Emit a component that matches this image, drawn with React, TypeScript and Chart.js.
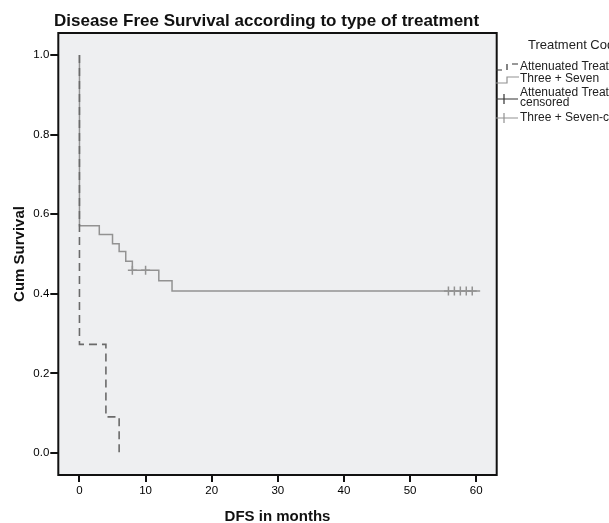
import React, { useEffect, useRef } from "react";
import { Chart, registerables } from "chart.js";

Chart.register(...registerables);

// ---- data ----
const attenuatedTimes = [0, 0, 4, 6];
const attenuatedSurvival = [1.0, 0.273, 0.091, 0.0];

const threeSevenTimes = [0, 0, 3, 5, 6, 7, 8, 12, 14, 60.6];
const threeSevenSurvival = [1.0, 0.571, 0.549, 0.526, 0.506, 0.482, 0.459, 0.433, 0.407, 0.407];

const threeSevenCensoredTimes = [8, 10, 55.8, 56.7, 57.6, 58.5, 59.4];
const threeSevenCensoredSurvival = [0.459, 0.459, 0.407, 0.407, 0.407, 0.407, 0.407];

const xTickValues = [0, 10, 20, 30, 40, 50, 60];
const yTickValues = [0, 0.2, 0.4, 0.6, 0.8, 1.0];

const titleText = "Disease Free Survival according to type of treatment";
const xTitle = "DFS in months";
const yTitle = "Cum Survival";
const legendTitle = "Treatment Code";
const legendLabels = ["Attenuated Treatment", "Three + Seven", "Attenuated Treatment-", "censored", "Three + Seven-censored"];

const DASH_COLOR = "#6a6a6a";
const SOLID_COLOR = "#929292";
const FONT = '"Liberation Sans", Arial, sans-serif';

const toPoints = (xs: number[], ys: number[]) => xs.map((x, i) => ({ x, y: ys[i] }));

const decorPlugin = {
  id: "decor",
  beforeDraw(chart: any) {
    const { ctx, chartArea: a } = chart;
    ctx.save();
    ctx.fillStyle = "#eeeff1";
    ctx.fillRect(a.left, a.top, a.right - a.left, a.bottom - a.top);
    ctx.restore();
  },
  afterDraw(chart: any) {
    const { ctx, chartArea: a } = chart;
    ctx.save();
    // frame
    ctx.strokeStyle = "#111";
    ctx.lineWidth = 2;
    ctx.strokeRect(a.left, a.top, a.right - a.left, a.bottom - a.top);

    // title
    ctx.fillStyle = "#111";
    ctx.font = `bold 17px ${FONT}`;
    ctx.textAlign = "left";
    ctx.textBaseline = "alphabetic";
    ctx.fillText(titleText, 54, 25.5);

    // axis titles
    ctx.font = `bold 15px ${FONT}`;
    ctx.textAlign = "center";
    ctx.textBaseline = "middle";
    ctx.fillText(xTitle, (a.left + a.right) / 2, 517);
    ctx.save();
    ctx.translate(20, (a.top + a.bottom) / 2);
    ctx.rotate(-Math.PI / 2);
    ctx.fillText(yTitle, 0, 0);
    ctx.restore();

    // legend
    ctx.textAlign = "left";
    ctx.textBaseline = "middle";
    ctx.font = `13px ${FONT}`;
    ctx.fillStyle = "#222";
    ctx.fillText(legendTitle, 528, 45);
    ctx.font = `12px ${FONT}`;
    const tx = 520;
    ctx.fillText(legendLabels[0], tx, 67);
    ctx.fillText(legendLabels[1], tx, 79);
    ctx.fillText(legendLabels[2], tx, 93);
    ctx.fillText(legendLabels[3], tx, 103);
    ctx.fillText(legendLabels[4], tx, 118);

    // legend symbols
    ctx.lineWidth = 1.2;
    ctx.strokeStyle = "#333";
    ctx.setLineDash([6, 5]);
    ctx.beginPath();
    ctx.moveTo(496, 70);
    ctx.lineTo(507, 70);
    ctx.lineTo(507, 64);
    ctx.lineTo(519, 64);
    ctx.stroke();
    ctx.setLineDash([]);

    ctx.strokeStyle = SOLID_COLOR;
    ctx.beginPath();
    ctx.moveTo(496, 83);
    ctx.lineTo(507, 83);
    ctx.lineTo(507, 77);
    ctx.lineTo(519, 77);
    ctx.stroke();

    ctx.strokeStyle = "#333";
    ctx.beginPath();
    ctx.moveTo(496, 99);
    ctx.lineTo(518, 99);
    ctx.moveTo(504, 94);
    ctx.lineTo(504, 104);
    ctx.stroke();

    ctx.strokeStyle = SOLID_COLOR;
    ctx.beginPath();
    ctx.moveTo(496, 118);
    ctx.lineTo(518, 118);
    ctx.moveTo(504, 113);
    ctx.lineTo(504, 123);
    ctx.stroke();

    ctx.restore();
  },
};

export default function App() {
  const ref = useRef<HTMLCanvasElement | null>(null);

  useEffect(() => {
    if (!ref.current) return;
    const chart = new Chart(ref.current, {
      type: "line",
      data: {
        datasets: [
          {
            label: "Attenuated Treatment",
            data: toPoints(attenuatedTimes, attenuatedSurvival),
            stepped: "before",
            borderColor: DASH_COLOR,
            borderWidth: 1.6,
            borderDash: [8, 5],
            pointRadius: 0,
            fill: false,
          },
          {
            label: "Three + Seven",
            data: toPoints(threeSevenTimes, threeSevenSurvival),
            stepped: "before",
            borderColor: SOLID_COLOR,
            borderWidth: 1.5,
            pointRadius: 0,
            fill: false,
          },
          {
            type: "scatter",
            label: "Three + Seven-censored",
            data: toPoints(threeSevenCensoredTimes, threeSevenCensoredSurvival),
            showLine: false,
            pointStyle: "cross",
            pointRadius: 4.5,
            pointBorderWidth: 1.5,
            borderColor: SOLID_COLOR,
            backgroundColor: SOLID_COLOR,
          } as any,
        ],
      },
      options: {
        animation: false,
        responsive: false,
        devicePixelRatio: 1,
        layout: { padding: { left: 0, top: 33, right: 112.3, bottom: 0 } },
        plugins: {
          legend: { display: false },
          title: { display: false },
          tooltip: { enabled: false },
        },
        scales: {
          x: {
            type: "linear",
            min: -3.2,
            max: 63.1,
            afterFit: (s: any) => {
              s.height = 48;
            },
            afterBuildTicks: (s: any) => {
              s.ticks = xTickValues.map((v) => ({ value: v }));
            },
            ticks: {
              includeBounds: false,
              padding: 2,
              color: "#000",
              font: { family: FONT, size: 11.5 },
              callback: (v: any) => String(v),
            },
            grid: {
              display: true,
              drawOnChartArea: false,
              drawTicks: true,
              tickLength: 7,
              color: "#111",
              lineWidth: 2,
            },
            border: { display: false },
          },
          y: {
            type: "linear",
            min: -0.055,
            max: 1.055,
            afterFit: (s: any) => {
              s.width = 58.3;
            },
            afterBuildTicks: (s: any) => {
              s.ticks = yTickValues.map((v) => ({ value: v }));
            },
            ticks: {
              includeBounds: false,
              padding: 1,
              color: "#000",
              font: { family: FONT, size: 11.5 },
              callback: (v: any) => Number(v).toFixed(1),
            },
            grid: {
              display: true,
              drawOnChartArea: false,
              drawTicks: true,
              tickLength: 8,
              color: "#111",
              lineWidth: 2,
            },
            border: { display: false },
          },
        },
      },
      plugins: [decorPlugin],
    } as any);
    return () => chart.destroy();
  }, []);

  return (
    <div style={{ position: "absolute", left: 0, top: 0, width: 609, height: 523 }}>
      <canvas ref={ref} width={609} height={523} style={{ width: 609, height: 523, display: "block" }} />
    </div>
  );
}
